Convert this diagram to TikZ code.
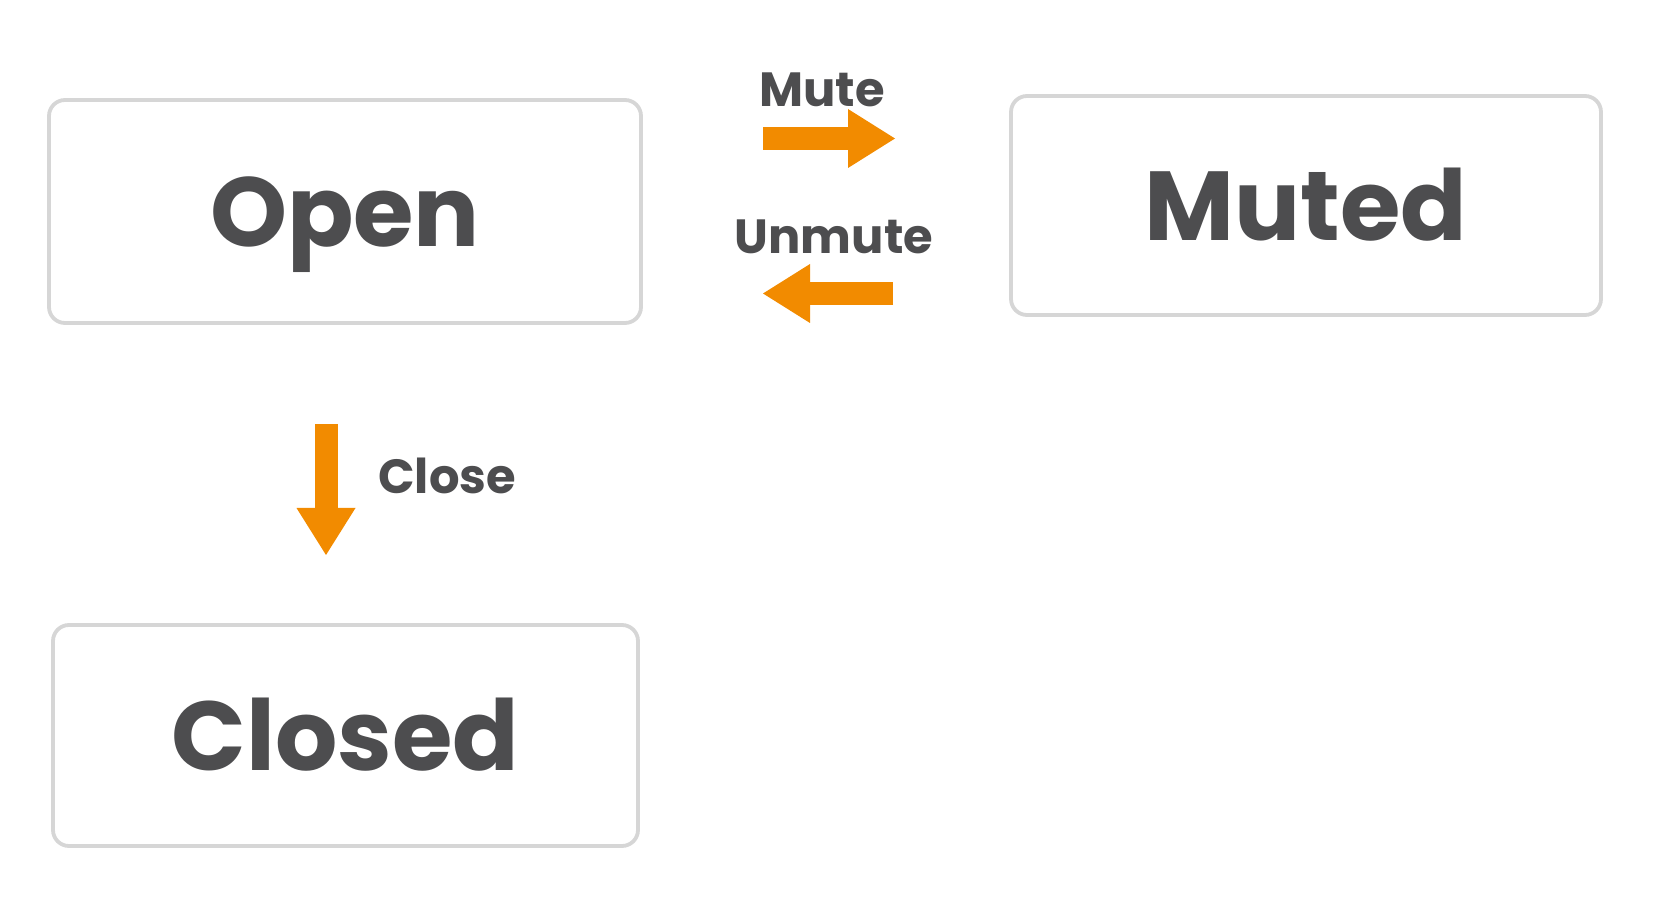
\documentclass[tikz,border=0pt]{standalone}
\usepackage{fontspec}
\setmainfont{Poppins}
\usetikzlibrary{arrows.meta}
\definecolor{inkgray}{RGB}{77,77,79}
\definecolor{framegray}{RGB}{214,214,214}
\definecolor{signalorange}{RGB}{242,139,0}
\tikzset{
  state/.style={draw=framegray, line width=1.9pt, rounded corners=8pt, fill=white,
    inner sep=0pt, text height=35pt, text depth=0pt, text=inkgray,
    font=\fontsize{49}{54}\selectfont\bfseries},
  event/.style={inner sep=0pt, text height=17pt, text depth=0pt, text=inkgray,
    font=\fontsize{24}{27}\selectfont\bfseries},
  fatarrow/.style={draw=signalorange, line width=11.5pt,
    -{Triangle[width=29.5pt,length=23.5pt,line width=0pt]}}
}
\begin{document}
\begin{tikzpicture}[x=0.5pt,y=-0.5pt]
  \useasboundingbox (0,0) rectangle (1672,914);
  \node[state, minimum width=296pt, minimum height=111.5pt] (open) at (345,211.5) {Open};
  \node[state, minimum width=295pt, minimum height=109.5pt] (muted) at (1306,205.5) {Muted};
  \node[state, minimum width=292.5pt, minimum height=110.5pt] (closed) at (345.5,735.5) {Closed};
  \coordinate (muteA) at (763,138.5);
  \coordinate (muteB) at (895,138.5);
  \coordinate (unmuteA) at (893,293.5);
  \coordinate (unmuteB) at (763,293.5);
  \coordinate (closeA) at (326,424);
  \coordinate (closeB) at (326,555);
  \draw[fatarrow] (muteA) -- (muteB);
  \draw[fatarrow] (unmuteA) -- (unmuteB);
  \draw[fatarrow] (closeA) -- (closeB);
  \node[event] (mutelbl) at (822,90) {Mute};
  \node[event] (unmutelbl) at (834,237) {Unmute};
  \node[event, anchor=west] (closelbl) at (378,477) {Close};
\end{tikzpicture}
\end{document}
